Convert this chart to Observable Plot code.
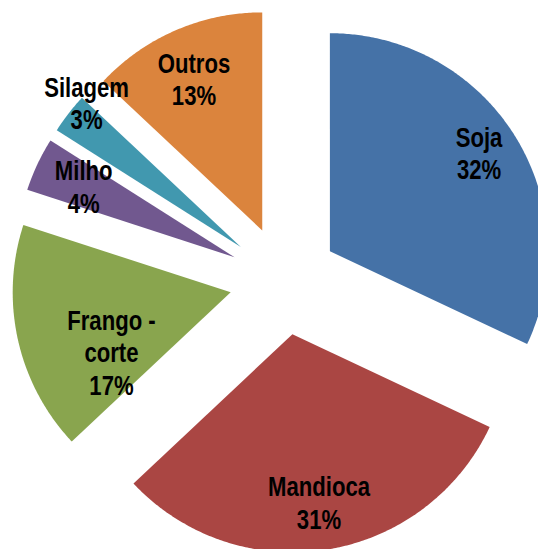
<!DOCTYPE html>
<html>
<head>
<meta charset="utf-8">
<script src="https://cdn.jsdelivr.net/npm/d3@7"></script>
<script src="https://cdn.jsdelivr.net/npm/@observablehq/plot@0.6"></script>
<style>
  html, body { margin: 0; padding: 0; background: #ffffff; }
  #chart { width: 538px; height: 549px; }
</style>
</head>
<body>
<div id="chart"></div>
<script>
// ---- data ----
const categories = ["Soja", "Mandioca", "Frango - corte", "Milho", "Silagem", "Outros"];
const labelNames = ["Soja", "Mandioca", "Frango -\ncorte", "Milho", "Silagem", "Outros"];
const values = [32, 31, 17, 4, 3, 13];
const colors = ["#4572A7", "#AA4643", "#89A54E", "#71588F", "#4198AF", "#DB843D"];

// ---- layout (unit radius = 1) ----
const explode = 0.25;
const xDomain = [-1.300, 1.168];
const yDomain = [-1.234, 1.284];
const narrow = 0.82; // horizontal squeeze to imitate a narrow bold face
const labelLayout = {
  default: {r: 1.015, dAngle: 0},
  "Soja": {r: 1.07, dAngle: -0.8},
  "Mandioca": {r: 1.03, dAngle: 0},
  "Frango - corte": {r: 0.856, dAngle: -9.9},
  "Silagem": {r: 1.218, dAngle: 4.2},
  "Outros": {r: 1.014, dAngle: -0.6}
};

const rows = categories.map((c, i) => ({name: c, label: labelNames[i], value: values[i]}));
const arcs = d3.pie().sort(null).value(d => d.value)(rows);

const polyPts = [];
const labels = [];
for (const a of arcs) {
  const mid = (a.startAngle + a.endAngle) / 2;
  const ox = explode * Math.sin(mid), oy = explode * Math.cos(mid);
  polyPts.push({name: a.data.name, x: ox, y: oy});
  const n = Math.max(8, Math.ceil((a.endAngle - a.startAngle) / (Math.PI / 360)));
  for (let k = 0; k <= n; k++) {
    const t = a.startAngle + (a.endAngle - a.startAngle) * k / n;
    polyPts.push({name: a.data.name, x: ox + Math.sin(t), y: oy + Math.cos(t)});
  }
  polyPts.push({name: a.data.name, x: ox, y: oy});
  const L = Object.assign({}, labelLayout.default, labelLayout[a.data.name] || {});
  const la = mid + L.dAngle * Math.PI / 180;
  labels.push({
    name: a.data.name,
    text: a.data.label + "\n" + a.data.value + "%",
    x: L.r * Math.sin(la),
    y: L.r * Math.cos(la)
  });
}

const chart = Plot.plot({
  width: 538,
  height: 549,
  margin: 0,
  style: {background: "#ffffff"},
  x: {domain: xDomain, axis: null},
  y: {domain: yDomain, axis: null},
  color: {domain: categories, range: colors},
  marks: [
    Plot.line(polyPts, {x: "x", y: "y", z: "name", fill: "name", stroke: "none", curve: "linear"}),
    Plot.text(labels, {
      x: "x", y: "y", text: "text",
      fill: "#000000",
      fontSize: 27,
      fontWeight: "bold",
      fontFamily: "'Liberation Sans', Arial, sans-serif",
      lineHeight: 1.2,
      textAnchor: "middle",
      lineAnchor: "middle",
      className: "pie-label"
    })
  ]
});
document.getElementById("chart").appendChild(chart);

// squeeze label glyphs horizontally around their anchor
chart.querySelectorAll("g.pie-label text, .pie-label text").forEach(t => {
  const tr = t.getAttribute("transform");
  if (tr) {
    t.setAttribute("transform", tr + ` scale(${narrow},1)`);
  } else {
    const x = +t.getAttribute("x") || 0, y = +t.getAttribute("y") || 0;
    t.setAttribute("transform", `translate(${x},${y}) scale(${narrow},1) translate(${-x},${-y})`);
  }
});
</script>
</body>
</html>
